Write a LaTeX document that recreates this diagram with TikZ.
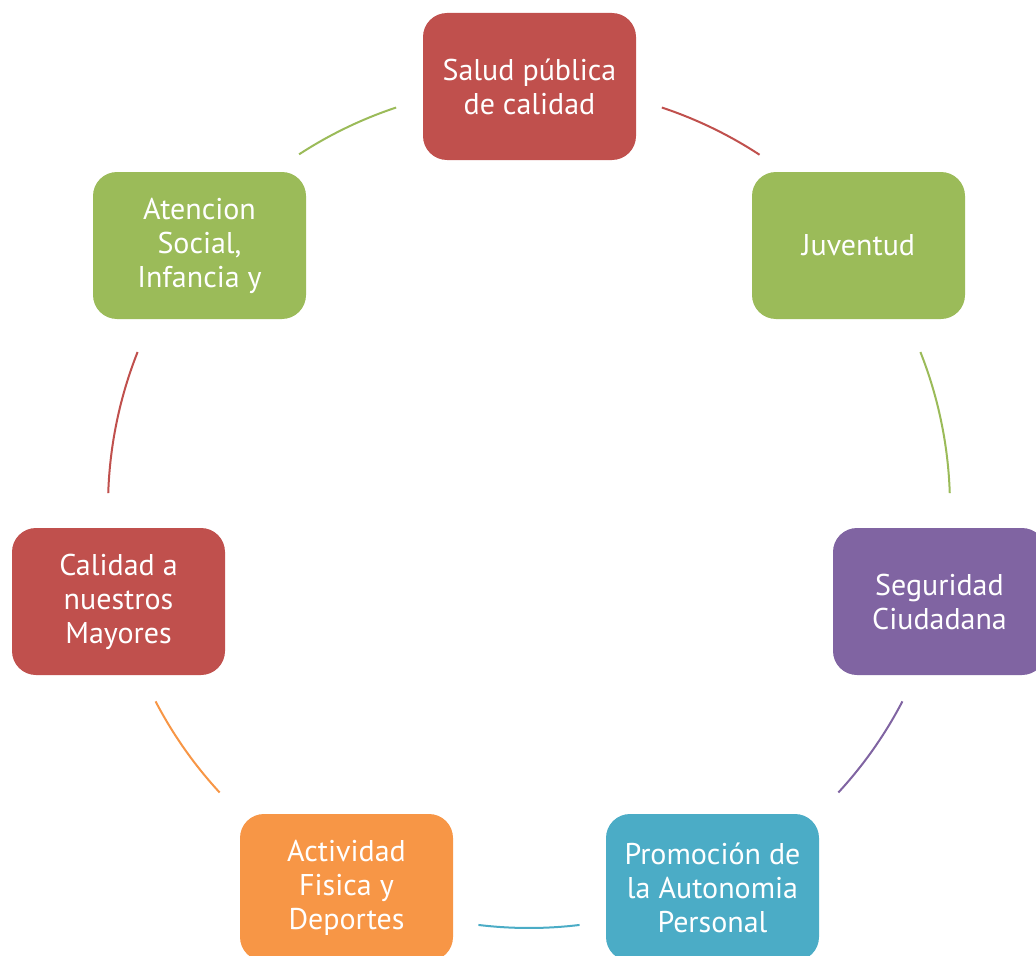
\documentclass[tikz,border=0pt]{standalone}
\usepackage{fontspec}
\setmainfont{PT Sans}
\usepackage{tikz}

\definecolor{boxred}{HTML}{C0504D}
\definecolor{boxgreen}{HTML}{9BBB59}
\definecolor{boxpurple}{HTML}{8064A2}
\definecolor{boxteal}{HTML}{4BACC6}
\definecolor{boxorange}{HTML}{F79646}

\tikzset{
  area/.style={rounded corners=18pt, minimum width=159.75pt, minimum height=110.25pt,
    inner sep=0.75pt, align=center, text=white, font=\fontsize{22.5}{25.5}\selectfont},
  ring/.style={line width=1.5pt}
}

\begin{document}
\begin{tikzpicture}[x=0.75pt,y=0.75pt,yscale=-1,xscale=1]
\useasboundingbox (0,0) rectangle (1036,956);

%centre of the ring
\coordinate (c) at (529,507);

%Shape: Arc [salud -> juventud]
\draw [ring, boxred] (c) ++(-71.6:421) arc (-71.6:-56.8:421);
%Shape: Arc [juventud -> seguridad]
\draw [ring, boxgreen] (c) ++(-21.6:421) arc (-21.6:-1.9:421);
%Shape: Arc [seguridad -> promocion]
\draw [ring, boxpurple] (c) ++(27.5:421) arc (27.5:42.7:421);
%Shape: Arc [promocion -> actividad]
\draw [ring, boxteal] (c) ++(83.1:421) arc (83.1:96.9:421);
%Shape: Arc [actividad -> mayores]
\draw [ring, boxorange] (c) ++(137.3:421) arc (137.3:152.5:421);
%Shape: Arc [mayores -> atencion]
\draw [ring, boxred] (c) ++(181.9:421) arc (181.9:201.6:421);
%Shape: Arc [atencion -> salud]
\draw [ring, boxgreen] (c) ++(236.9:421) arc (236.9:251.6:421);

% Text Node
\node [area, fill=boxred] (salud) at (529.5,86.5) {Salud pública\\de calidad};
% Text Node
\node [area, fill=boxgreen] (juventud) at (858.5,245.5) {Juventud};
% Text Node
\node [area, fill=boxpurple] (seguridad) at (939.5,601.5) {Seguridad\\Ciudadana};
% Text Node
\node [area, fill=boxteal] (promocion) at (712.5,887.5) {Promoción de\\la Autonomia\\Personal};
% Text Node
\node [area, fill=boxorange] (actividad) at (346.5,887.5) {Actividad\\Fisica y\\Deportes};
% Text Node
\node [area, fill=boxred] (mayores) at (118.5,601.5) {Calidad a\\nuestros\\Mayores};
% Text Node
\node [area, fill=boxgreen] (atencion) at (199.5,245.5) {Atencion\\Social,\\Infancia y};
\end{tikzpicture}
\end{document}
